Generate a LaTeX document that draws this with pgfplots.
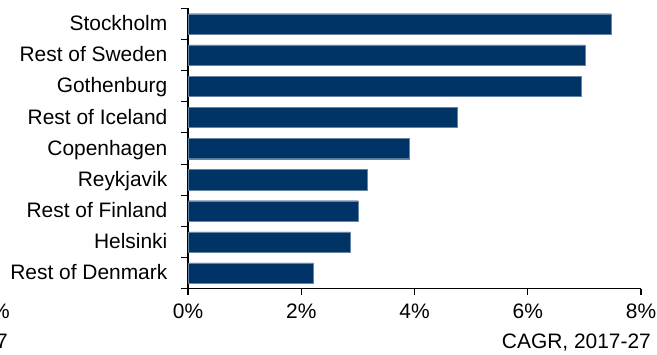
\documentclass[border=0pt]{standalone}
\usepackage{pgfplots}
\pgfplotsset{compat=1.18}
\usepackage{fontspec}
\setmainfont{Liberation Sans}
\definecolor{navy}{RGB}{0,51,102}

\begin{document}
\begin{tikzpicture}[x=1bp,y=1bp]
\begin{axis}[
  at={(188bp,66.3bp)}, anchor=south west,
  scale only axis,
  width=453bp, height=280.4bp,
  xbar, bar width=20.3bp,
  xmin=0, xmax=8,
  ymin=-0.5, ymax=8.5,
  axis x line*=bottom, axis y line*=left,
  axis line style={black, line width=1.1pt},
  xtick={0,2,4,6,8},
  xticklabels={0\%,2\%,4\%,6\%,8\%},
  xticklabel style={anchor=base, yshift=-23.6bp, inner sep=0pt},
  ytick={0,...,8},
  yticklabels={Rest of Denmark,Helsinki,Rest of Finland,Reykjavik,Copenhagen,Rest of Iceland,Gothenburg,Rest of Sweden,Stockholm},
  yticklabel style={anchor=base east, xshift=-14bp, yshift=-6.8bp, inner sep=0pt},
  % tick marks sit between the categories
  minor ytick={-0.5,0.5,...,8.5},
  major y tick style={draw=none},
  minor y tick style={draw=black, line width=1.1pt},
  x tick style={draw=black, line width=1.1pt},
  tick align=outside,
  major tick length=6.5bp,
  minor tick length=7bp,
  tick label style={font=\fontsize{21}{24}\selectfont},
]
\addplot[fill=navy, draw=navy!60!white, line width=0.3pt] coordinates {
  (2.21,0) (2.87,1) (3.00,2) (3.16,3) (3.90,4)
  (4.75,5) (6.95,6) (7.01,7) (7.47,8)
};
\end{axis}
\node[anchor=base east, inner sep=0pt, font=\fontsize{21}{24}\selectfont] at (651bp,6.7bp) {CAGR, 2017-27};
% neighbouring panel's labels, cut off at the left edge
\node[anchor=base east, inner sep=0pt, font=\fontsize{21}{24}\selectfont] at (10bp,36.7bp) {8\%};
\node[anchor=base east, inner sep=0pt, font=\fontsize{21}{24}\selectfont] at (8bp,6.7bp) {CAGR, 2017-27};
\pgfresetboundingbox
\useasboundingbox (0,0) rectangle (657bp,355bp);
\end{tikzpicture}
\end{document}
